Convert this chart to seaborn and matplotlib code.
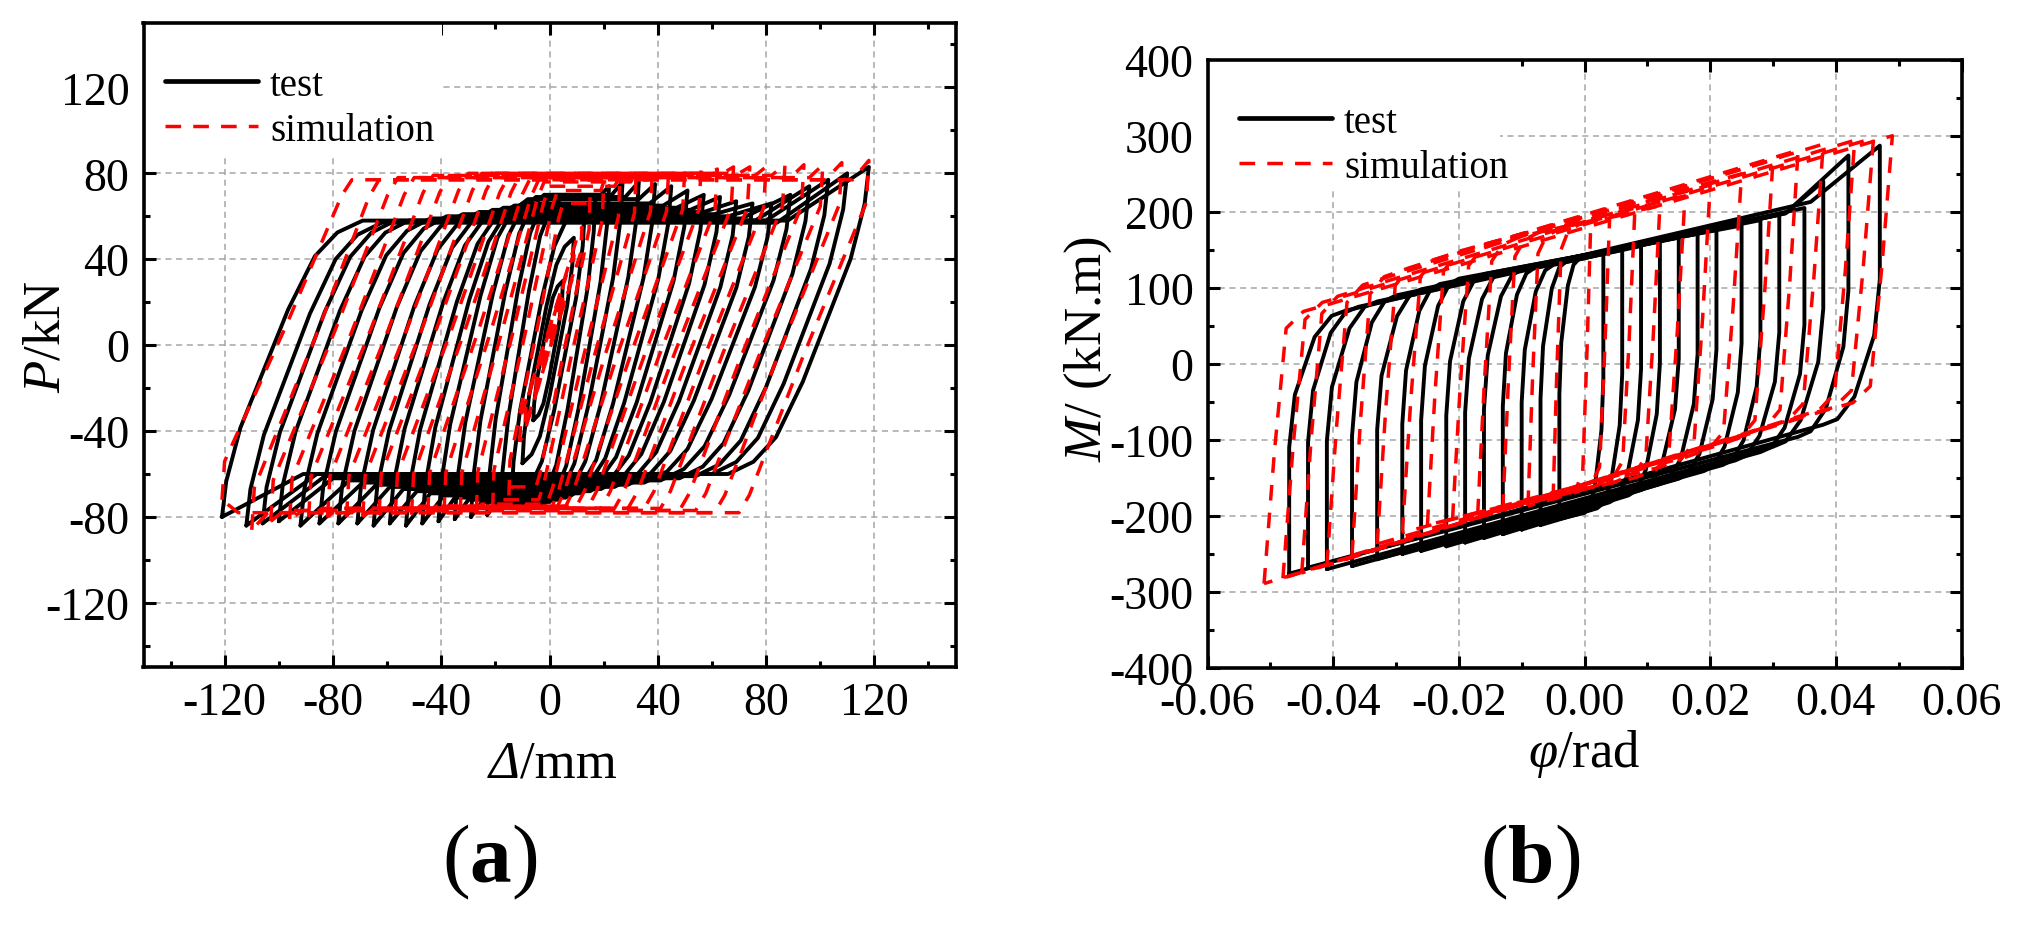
import numpy as np
import pandas as pd
import matplotlib
matplotlib.use("Agg")
import matplotlib.pyplot as plt
import seaborn as sns
from matplotlib.lines import Line2D
from matplotlib.patches import Rectangle
from matplotlib.ticker import MultipleLocator, FormatStrFormatter

# ── Panel (a): load P (kN) vs displacement (mm), one entry per cycle ──
A_TEST_DP = [5, 9, 13, 17, 22, 27, 33, 39, 45, 51, 57, 63, 69, 75, 82, 89, 96, 103, 110, 118]
A_TEST_DN = [-6, -10, -14, -18, -23, -29, -35, -41, -47, -53, -59, -65, -71, -78, -85, -92, -100, -106, -112, -121]
A_TEST_PP = [30, 50, 62, 70, 74, 76, 76, 75, 74, 72, 70, 69, 67, 66, 66, 70, 74, 77, 80, 83]
A_TEST_PN = [-35, -55, -70, -76, -79, -80, -81, -82, -83, -84, -83, -84, -83, -83, -83, -84, -82, -83, -84, -80]
A_TEST_TOP = [30, 50, 62, 68, 70, 70, 69, 68, 66, 65, 64, 63, 62, 61, 60, 59, 58, 58, 57, 58]
A_TEST_BOT = [-35, -55, -70, -73, -74, -73, -72, -71, -70, -69, -68, -67, -66, -65, -64, -63, -62, -61, -60, -60]
A_TEST_W = [11, 19, 24, 22, 24, 27, 30, 33, 37, 40, 42, 44, 45, 46, 47, 48, 48, 49, 50, 52]
A_TEST_HOOK = [0, 0, 0, 2, 3, 4, 5, 6, 8, 9, 10, 11, 12, 14, 16, 18, 20, 23, 26, 30]

A_SIM_DP = [5, 9, 12, 15, 20, 26, 32, 38, 44, 50, 56, 62, 68, 74, 80, 87, 94, 101, 108, 118]
A_SIM_DN = [-5, -9, -11, -15, -21, -27, -33, -39, -45, -51, -57, -63, -69, -75, -82, -89, -96, -103, -110, -121]
A_SIM_PP = [25, 42, 55, 70, 76, 78, 80, 81, 81, 82, 82, 82, 83, 83, 83, 84, 84, 84, 85, 86]
A_SIM_PN = [-22, -36, -45, -70, -76, -77, -78, -78, -78, -79, -79, -79, -80, -80, -80, -80, -81, -82, -86, -72]
A_SIM_TOP = [25, 42, 55, 66, 72, 74, 76, 77, 78, 79, 79, 80, 80, 80, 79, 79, 78, 78, 77, 77]
A_SIM_BOT = [-22, -36, -45, -66, -72, -74, -75, -75, -75, -75, -76, -76, -76, -76, -76, -76, -77, -77, -78, -78]
A_SIM_W = [10, 18, 23, 20, 24, 27, 31, 35, 38, 40, 42, 43, 44, 45, 45, 46, 46, 47, 47, 48]
A_SIM_HOOK = [0, 0, 0, 1, 1, 2, 2, 2, 3, 3, 3, 3, 4, 4, 4, 5, 5, 5, 6, 6]

# ── Panel (b): moment M (kN.m) vs rotation (rad) ──
B_TEST_DP = [0.003, 0.006, 0.009, 0.012, 0.015, 0.018, 0.021, 0.025, 0.028, 0.031, 0.035, 0.038, 0.042, 0.047]
B_TEST_DN = [-0.004, -0.007, -0.010, -0.013, -0.016, -0.019, -0.022, -0.026, -0.029, -0.033, -0.037, -0.041, -0.044, -0.047]
B_TEST_W = [0.003, 0.004, 0.005, 0.005, 0.006, 0.006, 0.006, 0.006, 0.006, 0.007, 0.007, 0.008, 0.008, 0.009]
B_TEST_PP = [145, 150, 155, 161, 166, 171, 176, 182, 189, 196, 205, 240, 274, 287]
B_TEST_PN = [-204, -212, -218, -224, -229, -235, -240, -246, -250, -257, -266, -270, -268, -276]
B_TEST_TOP_S = [137, 134, 130, 126, 124, 121, 118, 112, 105, 98, 90, 82, 75, 70]
B_TEST_TOP_E = [145, 150, 155, 161, 166, 171, 176, 182, 189, 196, 205, 198, 198, 213]
B_TEST_BOT_S = [-196, -190, -182, -173, -166, -158, -151, -141, -133, -127, -116, -109, -96, -80]
B_TEST_HOOK = [0, 0, 0, 0, 0, 0, 0, 0, 0, 0, 0, 0.006, 0.010, 0.011]

B_SIM_DP = [0.001, 0.004, 0.008, 0.012, 0.016, 0.020, 0.025, 0.030, 0.034, 0.038, 0.043, 0.046, 0.049]
B_SIM_DN = [-0.005, -0.009, -0.013, -0.017, -0.021, -0.025, -0.029, -0.033, -0.037, -0.041, -0.045, -0.048, -0.051]
B_SIM_W = [0.004, 0.005, 0.006, 0.007, 0.008, 0.008, 0.009, 0.009, 0.009, 0.010, 0.010, 0.011, 0.011]
B_SIM_PP = [187, 192, 199, 208, 221, 235, 250, 268, 281, 289, 294, 297, 300]
B_SIM_PN = [-178, -187, -192, -198, -204, -212, -222, -237, -252, -265, -275, -282, -289]
B_SIM_TOP_S = [183, 178, 174, 168, 162, 155, 148, 137, 126, 115, 100, 92, 80]
B_SIM_BOT_S = [-174, -168, -160, -155, -150, -136, -123, -108, -94, -86, -72, -68, -62]

# branch shapes (fraction of branch width / of force drop)
A_TEST_FX = [0, 0.03, 0.13, 0.30, 0.47, 0.66, 0.82, 1.0]
A_TEST_FP = [0, 0.12, 0.30, 0.50, 0.70, 0.88, 0.96, 1.0]
A_SIM_FX = [0, 0.02, 0.50, 0.92, 1.0]
A_SIM_FP = [0, 0.12, 0.55, 0.95, 1.0]
B_TEST_FX = [0, 0, 0, 0.10, 0.45, 0.75, 1.0]
B_TEST_FP = [0, 0.05, 0.48, 0.68, 0.90, 0.98, 1.0]
B_SIM_FX = [0, 0.15, 0.32, 0.57, 1.0]
B_SIM_FP = [0, 0.47, 0.91, 0.97, 1.0]


def loop_path(dn, pn, dp, pp, w, top_s, top_e, bot_s, bot_e, hook_p, hook_n, fx, fp):
    """One hysteresis cycle: reload -> upper band -> unload -> lower band."""
    xs, ys = [dn], [pn]
    for f, g in zip(fx[1:], fp[1:]):
        xs.append(dn + f * w)
        ys.append(pn + g * (top_s - pn))
    xs += [dp - hook_p, dp]
    ys += [top_e, pp]
    for f, g in zip(fx[1:], fp[1:]):
        xs.append(dp - f * w)
        ys.append(pp + g * (bot_s - pp))
    xs += [dn + hook_n, dn]
    ys += [bot_e, pn]
    return xs, ys


def build_frame(dn, pn, dp, pp, w, top_s, top_e, bot_s, bot_e, hook_p, hook_n, fx, fp):
    rows = []
    for i in range(len(dp)):
        xs, ys = loop_path(dn[i], pn[i], dp[i], pp[i], w[i], top_s[i], top_e[i],
                           bot_s[i], bot_e[i], hook_p[i], hook_n[i], fx, fp)
        rows.append(pd.DataFrame({"x": xs, "y": ys, "cycle": i}))
    return pd.concat(rows, ignore_index=True)


a_test = build_frame(A_TEST_DN, A_TEST_PN, A_TEST_DP, A_TEST_PP, A_TEST_W, A_TEST_TOP, A_TEST_TOP,
                     A_TEST_BOT, A_TEST_BOT, A_TEST_HOOK, A_TEST_HOOK, A_TEST_FX, A_TEST_FP)
a_sim = build_frame(A_SIM_DN, A_SIM_PN, A_SIM_DP, A_SIM_PP, A_SIM_W, A_SIM_TOP, A_SIM_TOP,
                    A_SIM_BOT, A_SIM_BOT, A_SIM_HOOK, A_SIM_HOOK, A_SIM_FX, A_SIM_FP)
zeros_bt = [0] * len(B_TEST_DP)
b_test = build_frame(B_TEST_DN, B_TEST_PN, B_TEST_DP, B_TEST_PP, B_TEST_W, B_TEST_TOP_S, B_TEST_TOP_E,
                     B_TEST_BOT_S, B_TEST_PN, B_TEST_HOOK, zeros_bt, B_TEST_FX, B_TEST_FP)
zeros_bs = [0] * len(B_SIM_DP)
b_sim = build_frame(B_SIM_DN, B_SIM_PN, B_SIM_DP, B_SIM_PP, B_SIM_W, B_SIM_TOP_S, B_SIM_PP,
                    B_SIM_BOT_S, B_SIM_PN, zeros_bs, zeros_bs, B_SIM_FX, B_SIM_FP)

# ── Style ────────────────────────────────────────────────────────
sns.set_theme(style="ticks")
plt.rcParams["font.family"] = ["Liberation Serif", "DejaVu Serif"]
plt.rcParams["mathtext.fontset"] = "custom"
plt.rcParams["mathtext.rm"] = "Liberation Serif"
plt.rcParams["mathtext.it"] = "Liberation Serif:italic"
plt.rcParams["mathtext.bf"] = "Liberation Serif:bold"
plt.rcParams["axes.unicode_minus"] = False
for key in ("text.color", "axes.labelcolor", "xtick.color", "ytick.color", "axes.edgecolor"):
    plt.rcParams[key] = "black"

W, H = 2017, 928
fig = plt.figure(figsize=(W / 100, H / 100), dpi=100)
ax_a = fig.add_axes([143.5 / W, 1 - 668.3 / H, 812 / W, 644.3 / H])
ax_b = fig.add_axes([1207.5 / W, 1 - 669 / H, 754 / W, 608.3 / H])

SIM_DASH = (0, (4.5, 3.5))
for ax, test, sim in [(ax_a, a_test, a_sim), (ax_b, b_test, b_sim)]:
    sns.lineplot(data=test, x="x", y="y", units="cycle", estimator=None, sort=False,
                 color="black", lw=2.8, ax=ax, legend=False)
    sns.lineplot(data=sim, x="x", y="y", units="cycle", estimator=None, sort=False,
                 color="#ff0000", lw=2.5, linestyle=SIM_DASH, ax=ax, legend=False)

ax_a.set_xlim(-150, 150)
ax_a.set_ylim(-150, 150)
ax_a.xaxis.set_minor_locator(MultipleLocator(20))
ax_a.yaxis.set_minor_locator(MultipleLocator(20))
ax_a.set_xticks([-120, -80, -40, 0, 40, 80, 120])
ax_a.set_yticks([-120, -80, -40, 0, 40, 80, 120])

ax_b.set_xlim(-0.06, 0.06)
ax_b.set_ylim(-400, 400)
ax_b.xaxis.set_major_locator(MultipleLocator(0.02))
ax_b.xaxis.set_minor_locator(MultipleLocator(0.01))
ax_b.xaxis.set_major_formatter(FormatStrFormatter("%.2f"))
ax_b.yaxis.set_major_locator(MultipleLocator(100))
ax_b.yaxis.set_minor_locator(MultipleLocator(50))

handles = [Line2D([], [], color="black", lw=3.4),
           Line2D([], [], color="#ff0000", lw=2.5, linestyle=SIM_DASH)]

# legend anchor and the white patch hiding the grid behind it (axes fractions)
LEGEND_SPOT = {ax_a: ((0.0073, 0.956), (0.368, 0.792)),
               ax_b: ((0.021, 0.953), (0.388, 0.790))}

for ax in (ax_a, ax_b):
    ax.set_xlabel("")
    ax.set_ylabel("")
    ax.set_axisbelow(True)
    ax.grid(True, which="major", color="#a6a6a6", linestyle=(0, (4, 3)), lw=1.1)
    for s in ax.spines.values():
        s.set_linewidth(2.6)
        s.set_color("black")
    ax.tick_params(which="both", direction="in", top=True, right=True,
                   width=2.2, color="black", labelcolor="black", labelsize=33, pad=10)
    ax.tick_params(which="major", length=8.5)
    ax.tick_params(which="minor", length=4.5)
    anchor, (bw, by) = LEGEND_SPOT[ax]
    ax.add_patch(Rectangle((0, by), bw, 1 - by, transform=ax.transAxes,
                           facecolor="white", edgecolor="none", zorder=1))
    leg = ax.legend(handles, ["test", "simulation"], loc="upper left", bbox_to_anchor=anchor,
                    fontsize=28, handlelength=2.4, handletextpad=0.3,
                    labelspacing=0.2, borderaxespad=0, borderpad=0.4, frameon=False)
    for t in leg.get_texts():
        t.set_color("black")

# axis titles and panel tags
fig.text(47 / W, 1 - 337 / H, "$P$/kN", rotation=90, ha="center", va="center", fontsize=38)
fig.text(520 / W, 1 - 778 / H, "\u0394", fontstyle="italic", ha="right", va="baseline", fontsize=38)
fig.text(520 / W, 1 - 778 / H, "/mm", ha="left", va="baseline", fontsize=38)
fig.text(1088 / W, 1 - 349 / H, "$M$/ (kN.m)", rotation=90, ha="center", va="center", fontsize=38)
fig.text(1584 / W, 1 - 767 / H, r"$\varphi$/rad", ha="center", va="baseline", fontsize=38)
fig.text(490 / W, 1 - 882 / H, r"($\mathbf{a}$)", ha="center", va="baseline", fontsize=60)
fig.text(1530 / W, 1 - 882 / H, r"($\mathbf{b}$)", ha="center", va="baseline", fontsize=60)

fig.savefig("out.png", dpi=100, facecolor="white")
plt.close(fig)
